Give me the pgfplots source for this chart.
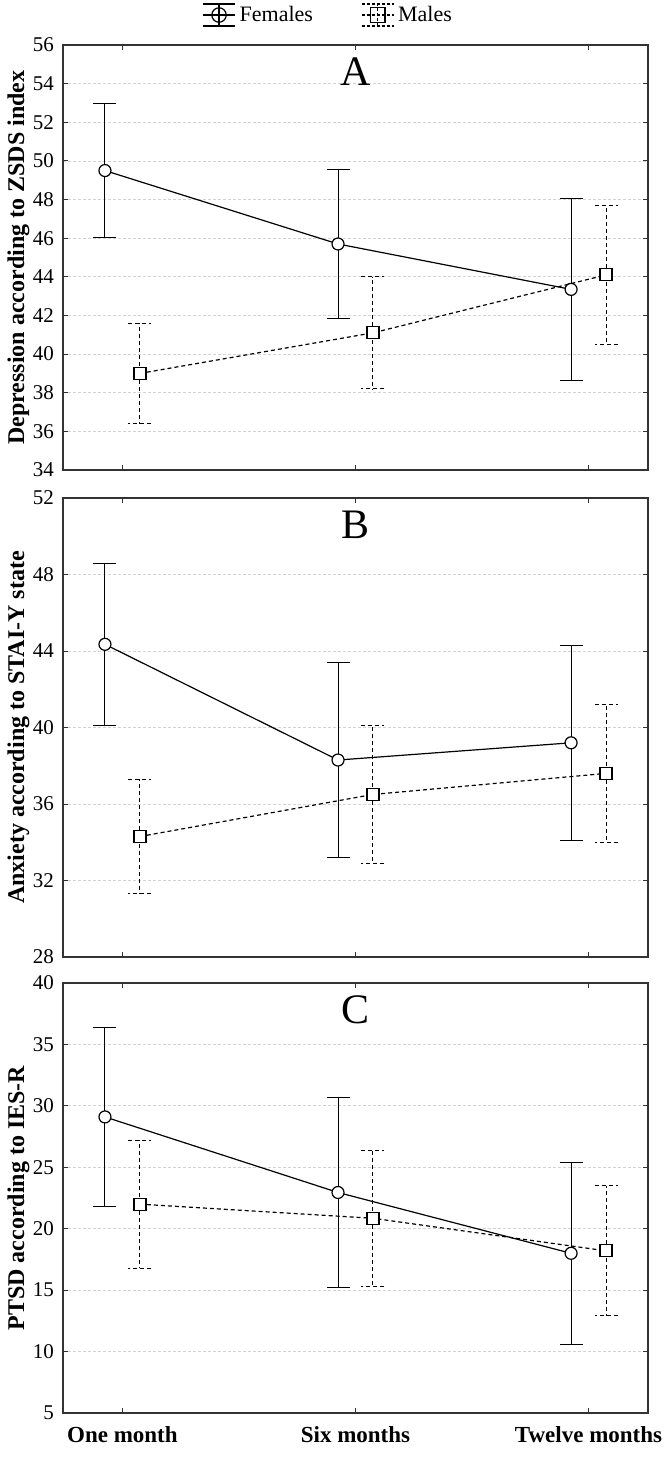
\documentclass[border=0pt]{standalone}
\usepackage{fontspec}
\setmainfont{Liberation Serif}
\usepackage{pgfplots}
\pgfplotsset{compat=1.18}
\usepackage{pgfplotstable}

% panel A: depression (ZSDS)
\pgfplotstableread{
x      y     e
-0.075 49.50 3.45
0.925  45.70 3.85
1.925  43.35 4.70
}\fA
\pgfplotstableread{
x      y     e
0.075  39.00 2.60
1.075  41.10 2.90
2.075  44.10 3.60
}\mA
% panel B: anxiety (STAI-Y)
\pgfplotstableread{
x      y     e
-0.075 44.35 4.25
0.925  38.30 5.10
1.925  39.20 5.10
}\fB
\pgfplotstableread{
x      y     e
0.075  34.30 3.00
1.075  36.50 3.60
2.075  37.60 3.60
}\mB
% panel C: PTSD (IES-R)
\pgfplotstableread{
x      y     e
-0.075 29.10 7.30
0.925  22.95 7.75
1.925  18.00 7.40
}\fC
\pgfplotstableread{
x      y     e
0.075  22.00 5.20
1.075  20.85 5.55
2.075  18.20 5.30
}\mC

\tikzset{title node/.style={anchor=north, yshift=-3pt, font=\fontsize{21}{21}\selectfont}}

\pgfplotsset{
  panel/.style={
    anchor=north west, scale only axis, width=292.5pt,
    xmin=-0.255, xmax=2.255, xtick={0,1,2}, xticklabels={},
    tick align=inside, tick pos=both, major tick length=2.5pt,
    ymajorgrids, grid style={gray!35, dash pattern=on 1.5pt off 1pt, line width=0.4pt},
    axis line style={black!80, line width=0.6pt},
    tick style={black!80, line width=0.5pt},
    tick label style={font=\fontsize{10.5}{12}\selectfont},
    yticklabel style={xshift=-1pt},
    /pgf/number format/assume math mode=true,
    ylabel style={font=\bfseries\fontsize{12}{14}\selectfont, at={(axis description cs:-0.076,0.5)}, anchor=center},
    clip=false,
  },
  fem/.style={black, solid, line width=0.6pt, mark=*, mark options={fill=white, solid, mark size=3pt},
    error bars/.cd, y dir=both, y explicit, error mark=|,
    error bar style={line width=0.5pt, solid},
    error mark options={mark size=5.75pt, line width=0.5pt, solid}, /pgfplots/.cd},
  mal/.style={black, line width=0.6pt, dash pattern=on 2pt off 1.5pt, mark=square*, mark options={fill=white, solid, mark size=3pt},
    error bars/.cd, y dir=both, y explicit, error mark=|,
    error bar style={line width=0.5pt, dash pattern=on 2pt off 1.5pt},
    error mark options={mark size=5.75pt, line width=0.5pt, dash pattern=on 2pt off 1.5pt}, /pgfplots/.cd},
}

\begin{document}
\begin{tikzpicture}
\path[use as bounding box] (0,0) rectangle (336pt,-731.5pt);

\begin{axis}[panel, at={(31.5pt,-22.5pt)}, height=212.5pt,
  ymin=34, ymax=56, ytick distance=2,
  ylabel={Depression according to ZSDS index},
  legend style={at={(axis description cs:0.455,1)}, anchor=center, yshift=15pt, draw=none, fill=none,
    legend columns=2, font=\fontsize{11}{13}\selectfont,
    /tikz/every even column/.append style={column sep=22pt}},
  legend cell align=left]
  \addlegendimage{legend image code/.code={
    \draw[black, line width=0.6pt] (0pt,0pt) -- (16pt,0pt) (0pt,5.5pt) -- (16pt,5.5pt) (0pt,-5.5pt) -- (16pt,-5.5pt);
    \draw[black, line width=0.6pt] (8pt,0pt) circle (3.6pt);
    \draw[black, line width=0.6pt] (8pt,-5.5pt) -- (8pt,5.5pt);}}
  \addlegendentry{Females}
  \addlegendimage{legend image code/.code={
    \draw[black, line width=0.6pt, dash pattern=on 1.5pt off 1pt] (0pt,0pt) -- (16pt,0pt) (0pt,5.5pt) -- (16pt,5.5pt) (0pt,-5.5pt) -- (16pt,-5.5pt);
    \draw[black, line width=0.6pt] (4.3pt,-3.7pt) rectangle (11.7pt,3.7pt);
    \draw[black, line width=0.6pt, dash pattern=on 1.5pt off 1pt] (8pt,-5.5pt) -- (8pt,5.5pt);}}
  \addlegendentry{Males}
  \addplot[forget plot, fem] table[x=x, y=y, y error=e] {\fA};
  \addplot[forget plot, mal] table[x=x, y=y, y error=e] {\mA};
  \node[title node] at (rel axis cs:0.5,1) {A};
\end{axis}

\begin{axis}[panel, at={(31.5pt,-249pt)}, height=229.5pt,
  ymin=28, ymax=52, ytick distance=4,
  ylabel={Anxiety according to STAI-Y state}]
  \addplot[fem] table[x=x, y=y, y error=e] {\fB};
  \addplot[mal] table[x=x, y=y, y error=e] {\mB};
  \node[title node] at (rel axis cs:0.5,1) {B};
\end{axis}

\begin{axis}[panel, at={(31.5pt,-491.5pt)}, height=215pt,
  ymin=5, ymax=40, ytick distance=5,
  ylabel={PTSD according to IES-R},
  xticklabels={One month, Six months, Twelve months},
  xticklabel style={font=\bfseries\fontsize{11.5}{13}\selectfont, yshift=-3pt}]
  \addplot[fem] table[x=x, y=y, y error=e] {\fC};
  \addplot[mal] table[x=x, y=y, y error=e] {\mC};
  \node[title node] at (rel axis cs:0.5,1) {C};
\end{axis}
\end{tikzpicture}
\end{document}
